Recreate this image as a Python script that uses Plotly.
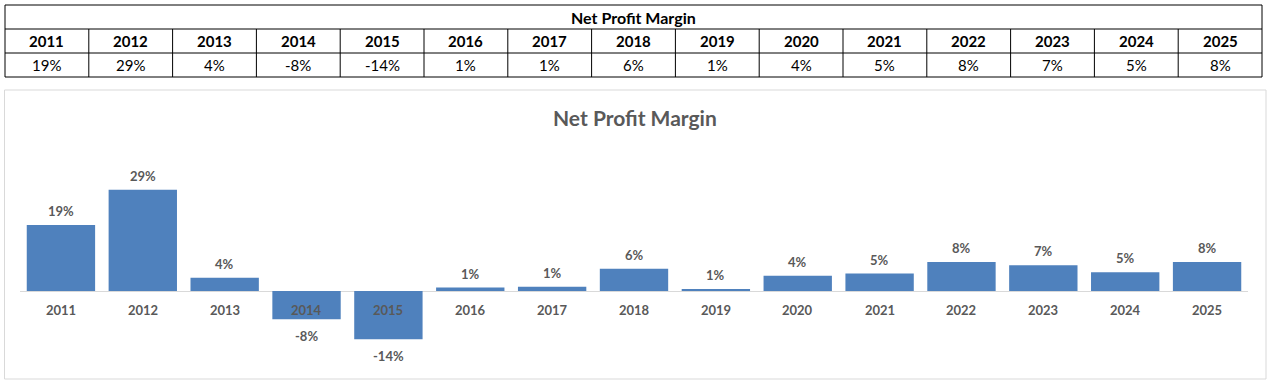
import plotly.graph_objects as go

years = ["2011", "2012", "2013", "2014", "2015", "2016", "2017", "2018",
         "2019", "2020", "2021", "2022", "2023", "2024", "2025"]
margins = [0.189, 0.290, 0.038, -0.081, -0.138, 0.010, 0.012, 0.064,
           0.006, 0.044, 0.050, 0.083, 0.074, 0.054, 0.083]
title_text = "Net Profit Margin"

labels = [f"{round(v * 100)}%" for v in margins]

W, H = 1271, 384
GRAY = "#595959"
BLUE = "#4F81BD"
FONT = "Lato"


def px(x):
    return x / W


def py(y):
    return 1 - y / H


fig = go.Figure()
fig.add_trace(go.Bar(
    x=years, y=margins, marker=dict(color=BLUE, line=dict(width=0)),
    hoverinfo="skip",
))

shapes = []
annotations = []

# chart border
shapes.append(dict(type="rect", xref="paper", yref="paper",
                   x0=px(4.5), x1=px(1266), y0=py(379), y1=py(90),
                   line=dict(color="#D9D9D9", width=1), layer="below"))

# table
tl, tr = 5, 1262
rows = [5, 29, 53, 77]
ncol = len(years)
cw = (tr - tl) / ncol
shapes.append(dict(type="rect", xref="paper", yref="paper",
                   x0=px(tl), x1=px(tr), y0=py(rows[3]), y1=py(rows[0]),
                   line=dict(color="black", width=1)))
for r in rows[1:3]:
    shapes.append(dict(type="line", xref="paper", yref="paper",
                       x0=px(tl), x1=px(tr), y0=py(r), y1=py(r),
                       line=dict(color="black", width=1)))
for i in range(1, ncol):
    xx = tl + i * cw
    shapes.append(dict(type="line", xref="paper", yref="paper",
                       x0=px(xx), x1=px(xx), y0=py(rows[3]), y1=py(rows[1]),
                       line=dict(color="black", width=1)))

annotations.append(dict(xref="paper", yref="paper", x=px((tl + tr) / 2),
                        y=py((rows[0] + rows[1]) / 2), text=title_text,
                        showarrow=False, xanchor="center", yanchor="middle",
                        font=dict(family=FONT, size=16, color="black", weight="bold")))
for i, (yr, lb) in enumerate(zip(years, labels)):
    cx = px(tl + (i + 0.5) * cw)
    annotations.append(dict(xref="paper", yref="paper", x=cx,
                            y=py((rows[1] + rows[2]) / 2), text=yr,
                            showarrow=False, xanchor="center", yanchor="middle",
                            font=dict(family=FONT, size=15, color="black", weight="bold")))
    annotations.append(dict(xref="paper", yref="paper", x=cx,
                            y=py((rows[2] + rows[3]) / 2), text=lb,
                            showarrow=False, xanchor="center", yanchor="middle",
                            font=dict(family=FONT, size=15, color="black")))

# chart title
annotations.append(dict(xref="paper", yref="paper", x=px(635), y=py(117),
                        text=title_text, showarrow=False, xanchor="center",
                        yanchor="middle",
                        font=dict(family=FONT, size=21, color=GRAY, weight="bold")))

# category labels at the zero line and data labels (category axis: index)
for i, (yr, v, lb) in enumerate(zip(years, margins, labels)):
    annotations.append(dict(xref="x", yref="y", x=i, y=0, yshift=-19,
                            text=yr, showarrow=False, xanchor="center",
                            yanchor="middle",
                            font=dict(family=FONT, size=13, color=GRAY, weight="bold")))
    annotations.append(dict(xref="x", yref="y", x=i, y=v,
                            yshift=14 if v >= 0 else -17,
                            text=lb, showarrow=False, xanchor="center",
                            yanchor="middle",
                            font=dict(family=FONT, size=13, color=GRAY, weight="bold")))

top_px, bot_px, zero_px = 140, 370, 291
scale = 349.0  # px per unit
fig.update_layout(
    width=W, height=H, margin=dict(l=0, r=0, t=0, b=0),
    paper_bgcolor="white", plot_bgcolor="white",
    showlegend=False, bargap=0.165,
    shapes=shapes, annotations=annotations,
    xaxis=dict(type="category", domain=[px(20), px(1248)], showticklabels=False,
               showgrid=False, showline=False, ticks="", range=[-0.5, 14.5],
               fixedrange=True),
    yaxis=dict(domain=[py(bot_px), py(top_px)],
               range=[-(bot_px - zero_px) / scale, (zero_px - top_px) / scale],
               showticklabels=False, showgrid=False, ticks="",
               zeroline=True, zerolinecolor="#D9D9D9", zerolinewidth=1,
               fixedrange=True),
)

fig.write_html("out.html", config={"displayModeBar": False},
               post_script="document.body.style.margin='0';document.body.style.overflow='hidden';")
